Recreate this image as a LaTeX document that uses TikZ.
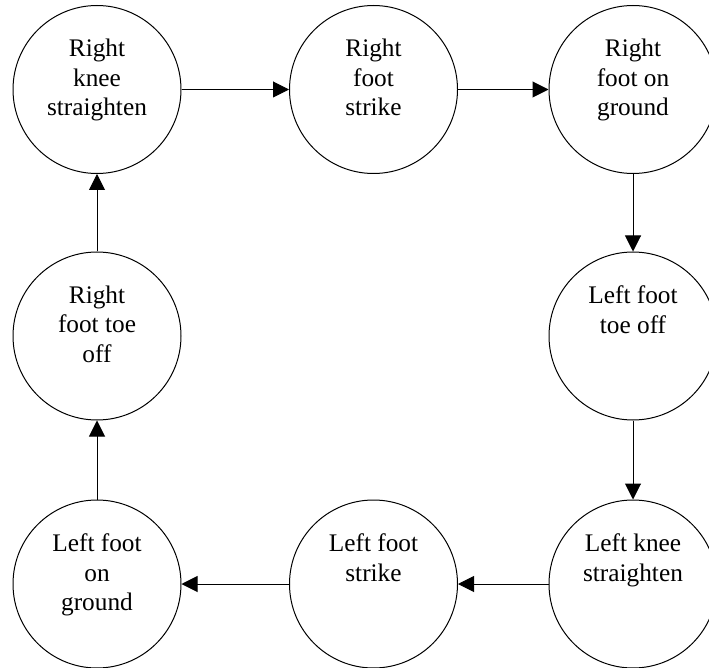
\documentclass[tikz,border=0pt]{standalone}
\usepackage{fontspec}
\setmainfont{Liberation Serif}
\usetikzlibrary{arrows.meta}

\tikzset{
  phase/.style={draw, circle, line width=1pt, minimum size=168pt, inner sep=0pt},
  lbl/.style={anchor=north, align=center, inner sep=0pt,
    font=\fontsize{25.3}{29.6}\selectfont,
    execute at begin node=\rule{0pt}{18pt}},
  flow/.style={line width=1pt, -{Triangle[length=16pt, width=16pt]}}
}

\begin{document}
\begin{tikzpicture}[x=1pt, y=-1pt]
  \useasboundingbox (0,0) rectangle (709,668);

  % gait cycle phases
  \node[phase] (c1) at (97,89.5)   {};
  \node[phase] (c2) at (373.5,89.5) {};
  \node[phase] (c3) at (633,89.5)  {};
  \node[phase] (c4) at (633,336)   {};
  \node[phase] (c5) at (633,584)   {};
  \node[phase] (c6) at (373.5,584) {};
  \node[phase] (c7) at (97,584)    {};
  \node[phase] (c8) at (97,336)    {};

  % labels, set from the top of each circle
  \node[lbl] (t1) at ([yshift=-34pt]c1.north) {Right\\knee\\straighten};
  \node[lbl] (t2) at ([yshift=-34pt]c2.north) {Right\\foot\\strike};
  \node[lbl] (t3) at ([yshift=-34pt]c3.north) {Right\\foot on\\ground};
  \node[lbl] (t4) at ([yshift=-34pt]c4.north) {Left foot\\toe off};
  \node[lbl] (t5) at ([yshift=-34pt]c5.north) {Left knee\\straighten};
  \node[lbl] (t6) at ([yshift=-34pt]c6.north) {Left foot\\strike};
  \node[lbl] (t7) at ([yshift=-34pt]c7.north) {Left foot\\on\\ground};
  \node[lbl] (t8) at ([yshift=-34pt]c8.north) {Right\\foot toe\\off};

  % transitions
  \draw[flow] (c1.east)  -- (c2.west);
  \draw[flow] (c2.east)  -- (c3.west);
  \draw[flow] (c3.south) -- (c4.north);
  \draw[flow] (c4.south) -- (c5.north);
  \draw[flow] (c5.west)  -- (c6.east);
  \draw[flow] (c6.west)  -- (c7.east);
  \draw[flow] (c7.north) -- (c8.south);
  \draw[flow] (c8.north) -- (c1.south);
\end{tikzpicture}
\end{document}
